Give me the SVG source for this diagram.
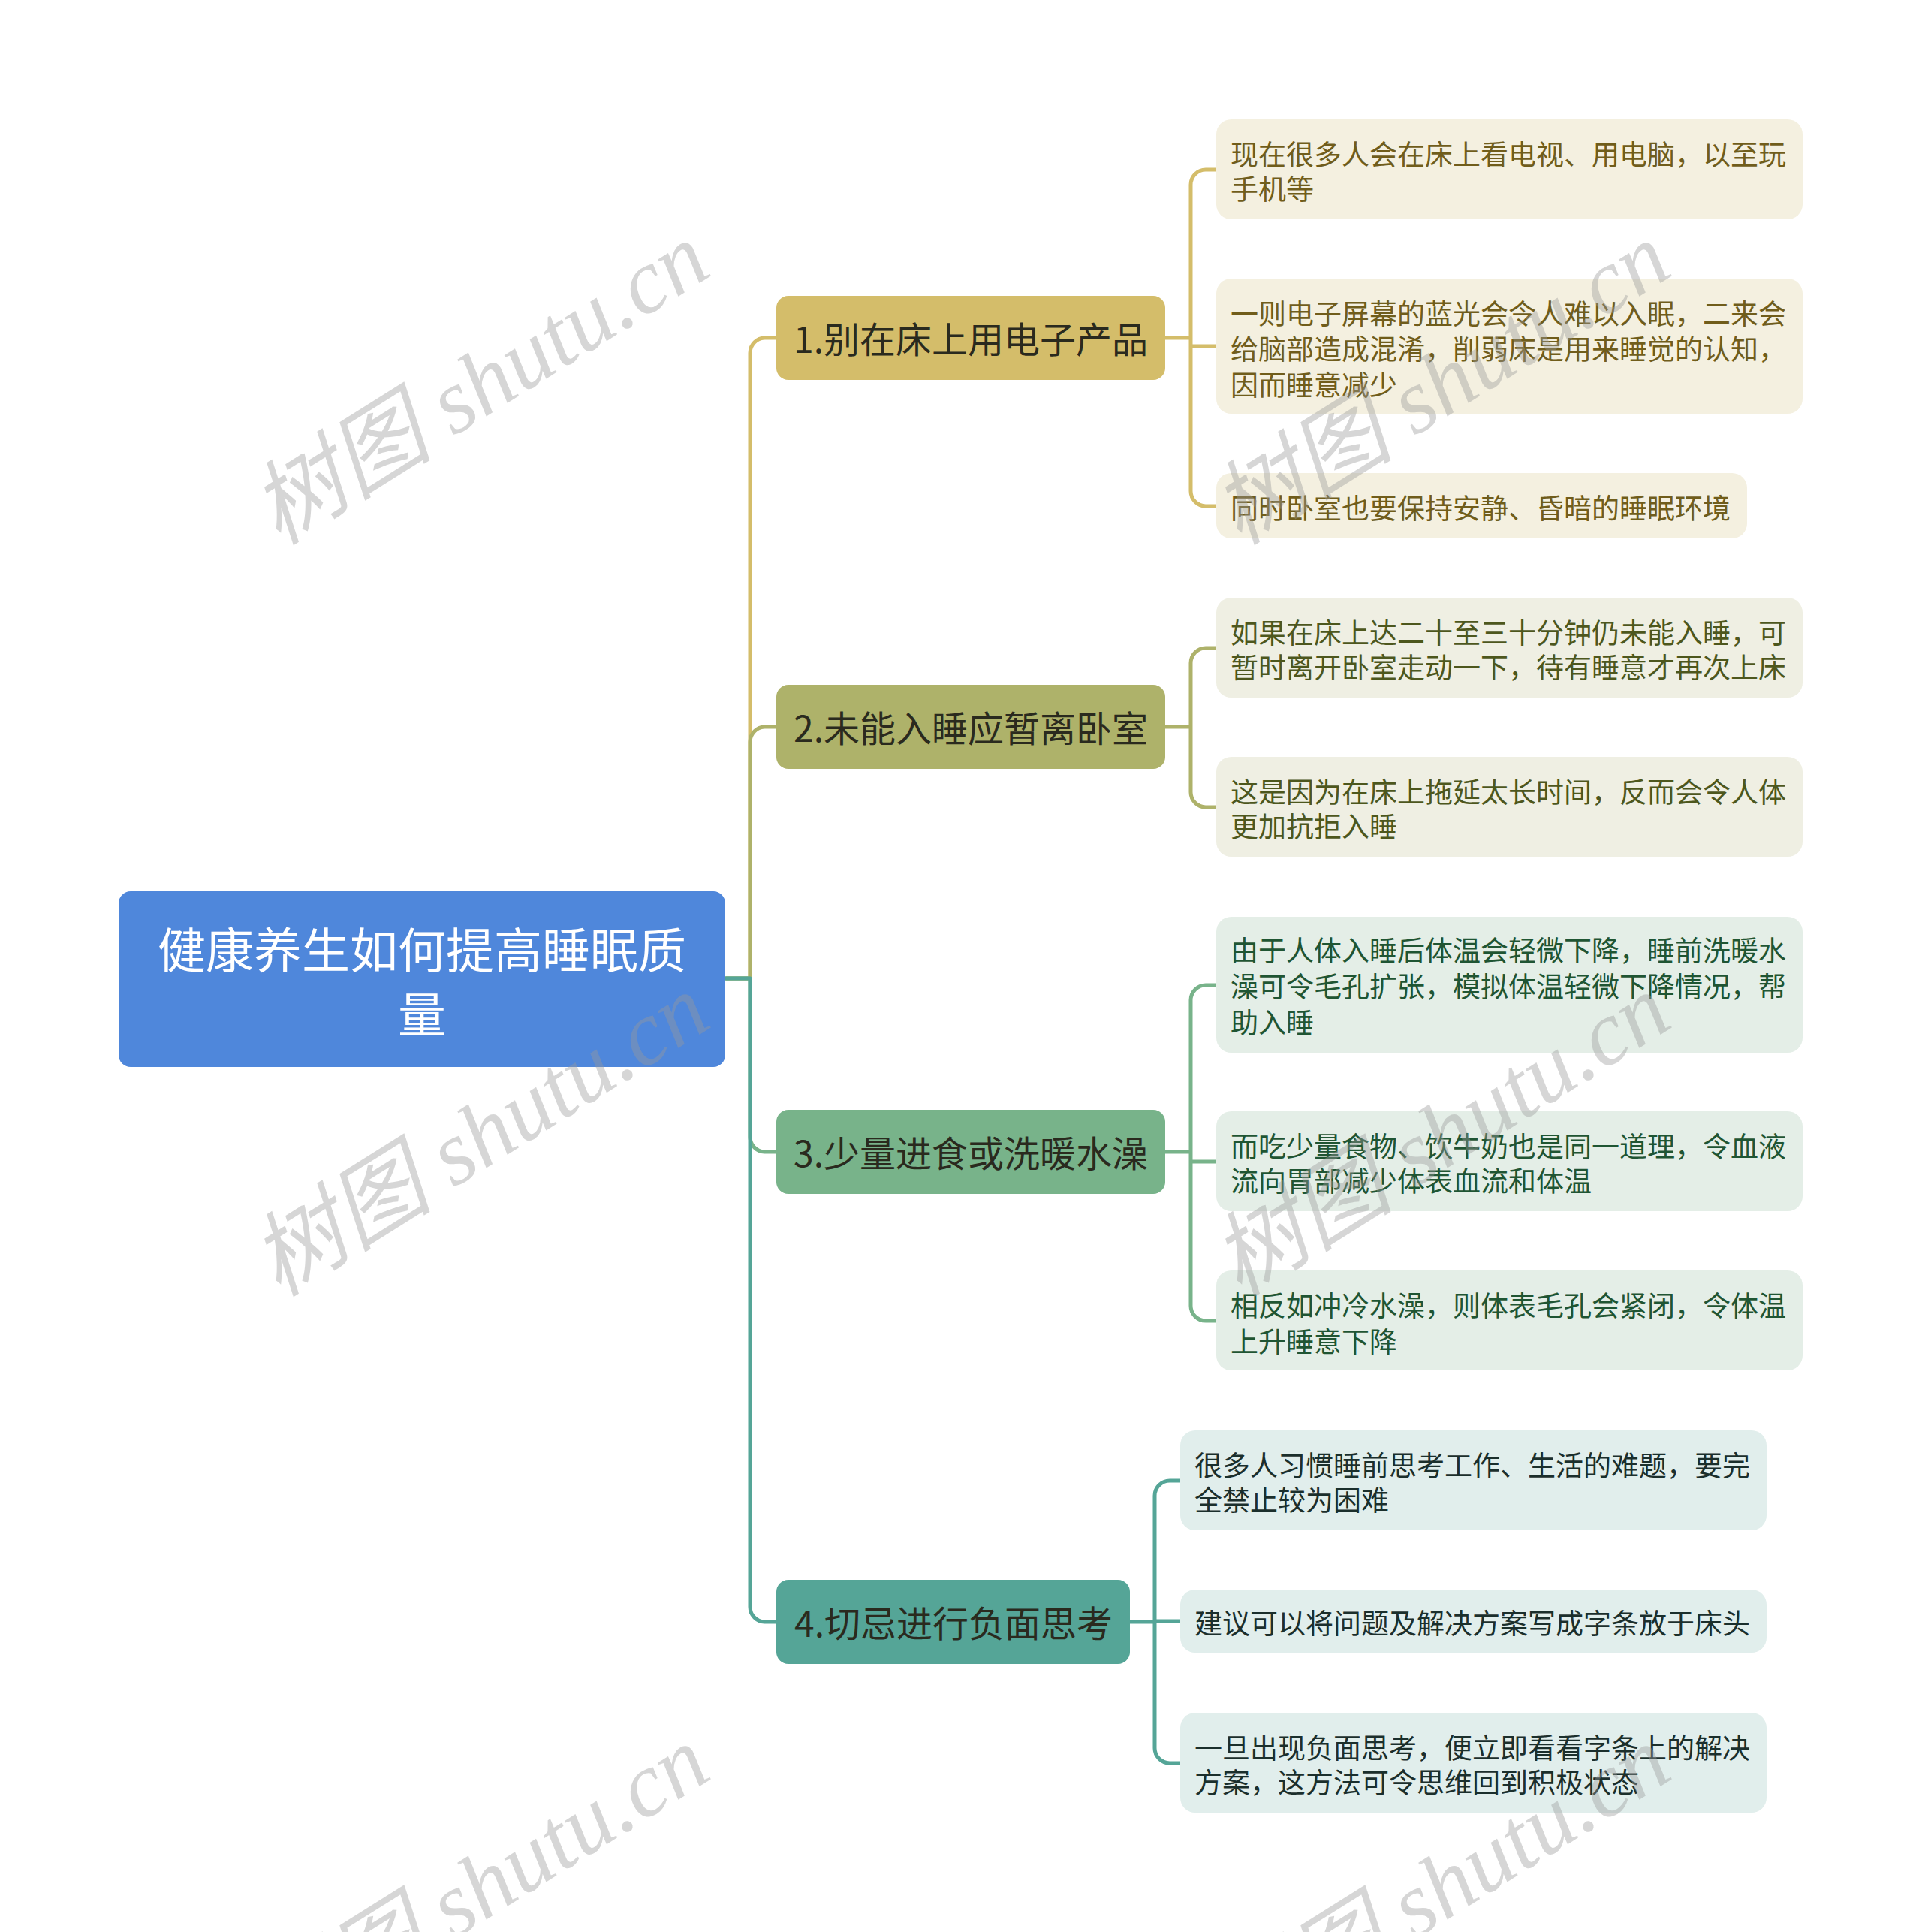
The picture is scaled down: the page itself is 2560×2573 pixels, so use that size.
<svg xmlns="http://www.w3.org/2000/svg" width="2560" height="2573" viewBox="0 0 2560 2573">
<style>
text{font-family:"Noto Sans CJK SC","Noto Sans",sans-serif;dominant-baseline:central}
.root-t{font-size:64px;fill:#ffffff;text-anchor:middle}
.br-t{font-size:48px;fill:#2a2a1e;text-anchor:middle}
.lf{font-size:37px}
.c{fill:none;stroke-width:5;stroke-linecap:round;stroke-linejoin:round}
.g1{stroke:#D4BD6A}.g2{stroke:#AEB26A}.g3{stroke:#78B38A}.g4{stroke:#55A597}
.l1{fill:#F4F0E0}.l2{fill:#EFEFE3}.l3{fill:#E4EEE7}.l4{fill:#E1EEEC}
.t1{fill:#705D1B}.t2{fill:#4D571D}.t3{fill:#1F5533}.t4{fill:#1B2F2C}
.wm{font-family:"Liberation Serif","Noto Sans CJK SC",serif;font-style:italic;font-size:122px;fill:#9a9a9a;opacity:0.4;dominant-baseline:alphabetic;text-anchor:middle}
</style>
<rect width="2560" height="2573" fill="#ffffff"/>
<g id="connectors">
<path class="c g1" d="M967,1303 H999 V470 A20,20 0 0 1 1019,450 H1034"/>
<path class="c g2" d="M967,1303 H999 V988 A20,20 0 0 1 1019,968 H1034"/>
<path class="c g3" d="M967,1303 H999 V1514 A20,20 0 0 0 1019,1534 H1034"/>
<path class="c g4" d="M967,1303 H999 V2140 A20,20 0 0 0 1019,2160 H1034"/>
<path class="c g1" d="M1552,450 H1586 M1586,450 V246 A20,20 0 0 1 1606,226 H1620 M1586,450 V461 H1620 M1586,450 V654 A20,20 0 0 0 1606,674 H1620"/>
<path class="c g2" d="M1552,968 H1586 M1586,968 V883 A20,20 0 0 1 1606,863 H1620 M1586,968 V1055 A20,20 0 0 0 1606,1075 H1620"/>
<path class="c g3" d="M1552,1534 H1586 M1586,1534 V1332 A20,20 0 0 1 1606,1312 H1620 M1586,1534 V1547 H1620 M1586,1534 V1739 A20,20 0 0 0 1606,1759 H1620"/>
<path class="c g4" d="M1505,2160 H1538 M1538,2160 V1992 A20,20 0 0 1 1558,1972 H1572 M1538,2160 V2159 H1572 M1538,2160 V2328 A20,20 0 0 0 1558,2348 H1572"/>
</g>
<g id="root">
<rect x="158" y="1187" width="808" height="234" rx="16" fill="#4F87DB"/>
<text class="root-t" x="562" y="1261">健康养生如何提高睡眠质</text>
<text class="root-t" x="562" y="1347">量</text>
</g>
<g id="branch1">
<rect x="1034" y="394" width="518" height="112" rx="16" fill="#D4BD6A"/>
<text class="br-t" x="1293" y="449">1.别在床上用电子产品</text>
</g>
<g id="branch2">
<rect x="1034" y="912" width="518" height="112" rx="16" fill="#AEB26A"/>
<text class="br-t" x="1293" y="967">2.未能入睡应暂离卧室</text>
</g>
<g id="branch3">
<rect x="1034" y="1478" width="518" height="112" rx="16" fill="#78B38A"/>
<text class="br-t" x="1293" y="1533">3.少量进食或洗暖水澡</text>
</g>
<g id="branch4">
<rect x="1034" y="2104" width="471" height="112" rx="16" fill="#55A597"/>
<text class="br-t" x="1270" y="2159">4.切忌进行负面思考</text>
</g>
<g id="leaf1-1">
<rect class="l1" x="1620" y="159" width="781" height="133" rx="20"/>
<text class="lf t1" x="1639" y="204">现在很多人会在床上看电视、用电脑，以至玩</text>
<text class="lf t1" x="1639" y="250">手机等</text>
</g>
<g id="leaf1-2">
<rect class="l1" x="1620" y="371" width="781" height="180" rx="20"/>
<text class="lf t1" x="1639" y="416">一则电子屏幕的蓝光会令人难以入眠，二来会</text>
<text class="lf t1" x="1639" y="463">给脑部造成混淆，削弱床是用来睡觉的认知，</text>
<text class="lf t1" x="1639" y="511">因而睡意减少</text>
</g>
<g id="leaf1-3">
<rect class="l1" x="1620" y="630" width="707" height="87" rx="20"/>
<text class="lf t1" x="1639" y="675">同时卧室也要保持安静、昏暗的睡眠环境</text>
</g>
<g id="leaf2-1">
<rect class="l2" x="1620" y="796" width="781" height="133" rx="20"/>
<text class="lf t2" x="1639" y="841">如果在床上达二十至三十分钟仍未能入睡，可</text>
<text class="lf t2" x="1639" y="887">暂时离开卧室走动一下，待有睡意才再次上床</text>
</g>
<g id="leaf2-2">
<rect class="l2" x="1620" y="1008" width="781" height="133" rx="20"/>
<text class="lf t2" x="1639" y="1053">这是因为在床上拖延太长时间，反而会令人体</text>
<text class="lf t2" x="1639" y="1099">更加抗拒入睡</text>
</g>
<g id="leaf3-1">
<rect class="l3" x="1620" y="1221" width="781" height="181" rx="20"/>
<text class="lf t3" x="1639" y="1264">由于人体入睡后体温会轻微下降，睡前洗暖水</text>
<text class="lf t3" x="1639" y="1312">澡可令毛孔扩张，模拟体温轻微下降情况，帮</text>
<text class="lf t3" x="1639" y="1360">助入睡</text>
</g>
<g id="leaf3-2">
<rect class="l3" x="1620" y="1480" width="781" height="133" rx="20"/>
<text class="lf t3" x="1639" y="1525">而吃少量食物、饮牛奶也是同一道理，令血液</text>
<text class="lf t3" x="1639" y="1571">流向胃部减少体表血流和体温</text>
</g>
<g id="leaf3-3">
<rect class="l3" x="1620" y="1692" width="781" height="133" rx="20"/>
<text class="lf t3" x="1639" y="1737">相反如冲冷水澡，则体表毛孔会紧闭，令体温</text>
<text class="lf t3" x="1639" y="1785">上升睡意下降</text>
</g>
<g id="leaf4-1">
<rect class="l4" x="1572" y="1905" width="781" height="133" rx="20"/>
<text class="lf t4" x="1591" y="1950">很多人习惯睡前思考工作、生活的难题，要完</text>
<text class="lf t4" x="1591" y="1996">全禁止较为困难</text>
</g>
<g id="leaf4-2">
<rect class="l4" x="1572" y="2117" width="781" height="84" rx="20"/>
<text class="lf t4" x="1591" y="2160">建议可以将问题及解决方案写成字条放于床头</text>
</g>
<g id="leaf4-3">
<rect class="l4" x="1572" y="2281" width="781" height="133" rx="20"/>
<text class="lf t4" x="1591" y="2326">一旦出现负面思考，便立即看看字条上的解决</text>
<text class="lf t4" x="1591" y="2372">方案，这方法可令思维回到积极状态</text>
</g>
<g id="watermarks">
<text class="wm" transform="translate(640,512) rotate(-32)" x="0" y="40">树图 shutu.cn</text>
<text class="wm" transform="translate(1920,512) rotate(-32)" x="0" y="40">树图 shutu.cn</text>
<text class="wm" transform="translate(640,1513) rotate(-32)" x="0" y="40">树图 shutu.cn</text>
<text class="wm" transform="translate(1920,1513) rotate(-32)" x="0" y="40">树图 shutu.cn</text>
<text class="wm" transform="translate(640,2514) rotate(-32)" x="0" y="40">树图 shutu.cn</text>
<text class="wm" transform="translate(1920,2514) rotate(-32)" x="0" y="40">树图 shutu.cn</text>
</g>
</svg>
